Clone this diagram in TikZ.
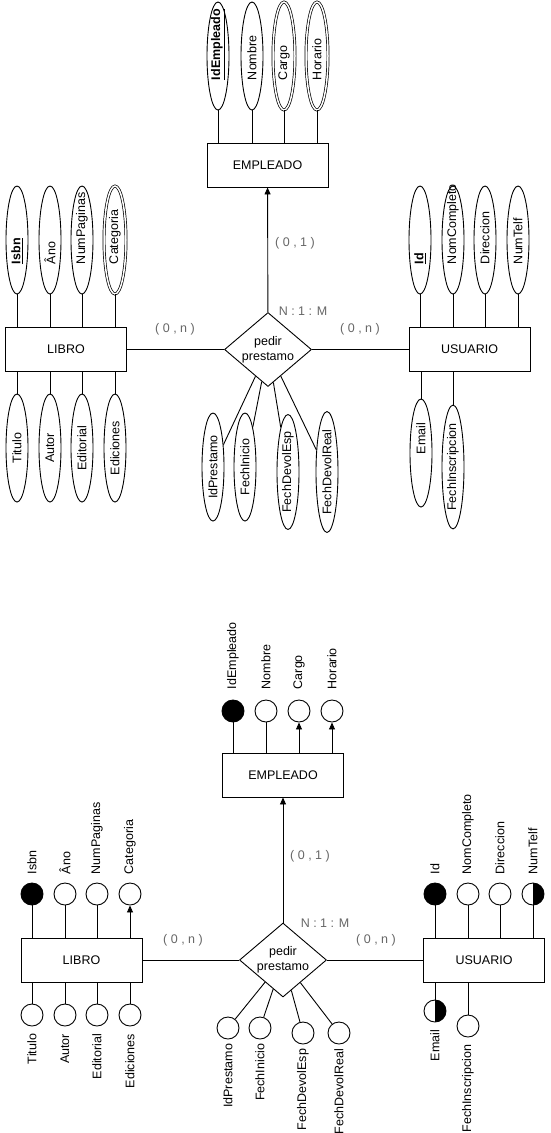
\documentclass[tikz,border=0pt]{standalone}
\usepackage{graphicx}
\usepackage{fontspec}
\setmainfont{Liberation Sans}
\usepackage{tikz}
\usetikzlibrary{positioning,shapes.geometric,arrows.meta}

\newcommand{\topattr}[1]{\rotatebox{90}{\makebox[48pt][l]{#1}}}
\newcommand{\vtext}[1]{\rotatebox{90}{#1}}

\begin{document}
\begin{tikzpicture}[x=1pt,y=-1pt,font=\fontsize{12.5}{15}\selectfont,line width=0.9pt,
    entity/.style={draw,minimum width=121pt,minimum height=44pt,inner sep=0pt},
    relbox/.style={diamond,draw,minimum width=87pt,minimum height=74pt,inner sep=0pt},
    attr/.style={ellipse,draw,minimum width=22pt,minimum height=108pt,inner sep=0pt},
    multi/.style={attr,double,double distance=1.5pt,line width=0.7pt},
    dotattr/.style={circle,draw,minimum size=22pt,inner sep=0pt},
    keydot/.style={dotattr,fill=black},
    halfdot/.style={dotattr,path picture={\fill (path picture bounding box.north) rectangle (path picture bounding box.south east);}},
    upl/.style={rotate=90,anchor=west,inner sep=1pt},
    downl/.style={rotate=90,anchor=east,inner sep=1pt},
    card/.style={text=black!60},
    link/.style={-{Triangle[length=7pt,width=6pt]}}]
  \useasboundingbox (0,0) rectangle (550,1133);

  % ---- modelo con elipses ----
  \node[entity](empleado) at (267.5,165){EMPLEADO};
  \node[entity](libro) at (66,349.5){LIBRO};
  \node[entity](usuario) at (469.5,349.5){USUARIO};
  \node[relbox](pedir) at (268,349.5){};
  \node[align=center,inner sep=0pt](pedirtxt) at (pedir){pedir\\prestamo};

  \node[attr](idempleado) at (218,56){\topattr{\underline{\textbf{IdEmpleado}}}};
  \node[attr](nombre) at (252,56){\topattr{Nombre}};
  \node[multi](cargo) at (284,56){\topattr{Cargo}};
  \node[multi](horario) at (317,56){\topattr{Horario}};
  \foreach \a in {idempleado,nombre,cargo,horario}
    \draw (\a) -- (\a |- empleado.north);

  \node[attr](isbn) at (17,240){\topattr{\underline{\textbf{Isbn}}}};
  \node[attr](ano) at (50,240){\topattr{Âno}};
  \node[attr](numpaginas) at (82,240){\topattr{NumPaginas}};
  \node[multi](categoria) at (115,240){\topattr{Categoria}};
  \node[attr](titulo) at (17,448){\vtext{Titulo}};
  \node[attr](autor) at (50,448){\vtext{Autor}};
  \node[attr](editorial) at (82,448){\vtext{Editorial}};
  \node[attr](ediciones) at (115,448){\vtext{Ediciones}};
  \foreach \a in {isbn,ano,numpaginas,categoria}
    \draw (\a) -- (\a |- libro.north);
  \foreach \a in {titulo,autor,editorial,ediciones}
    \draw (\a) -- (\a |- libro.south);

  \node[attr](id) at (420,240){\topattr{\underline{\textbf{Id}}}};
  \node[attr](nomcompleto) at (453,240){\topattr{NomCompleto}};
  \node[attr](direccion) at (485,240){\topattr{Direccion}};
  \node[attr](numtelf) at (518,240){\topattr{NumTelf}};
  \node[attr](email) at (421,453){\vtext{\makebox[60pt][r]{Email}}};
  \node[attr](fechinscripcion) at (453,467){\vtext{FechInscripcion}};
  \foreach \a in {id,nomcompleto,direccion,numtelf}
    \draw (\a) -- (\a |- usuario.north);
  \foreach \a in {email,fechinscripcion}
    \draw (\a) -- (\a |- usuario.south);

  \node[attr](idprestamo) at (213,467){\vtext{IdPrestamo}};
  \node[attr](fechinicio) at (245,467){\vtext{FechInicio}};
  \node[attr](fechdevolesp) at (288,472){\vtext{FechDevolEsp}};
  \node[attr](fechdevolreal) at (327,472){\vtext{FechDevolReal}};
  \foreach \a in {idprestamo,fechinicio,fechdevolesp,fechdevolreal}
    \draw (pedir) -- (\a);

  \draw (libro) -- (pedir);
  \draw (usuario) -- (pedir);
  \draw[link] (pedir) -- (empleado);
  \node[card](cl) at (175,329){( 0 , n )};
  \node[card](cr) at (360,329){( 0 , n )};
  \node[card](cm) at (303,311){N : 1 : M};
  \node[card](ce) at (295,243){( 0 , 1 )};

  % ---- modelo con circulos ----
  \node[entity](empleado2) at (283,775){EMPLEADO};
  \node[entity](libro2) at (81.5,960){LIBRO};
  \node[entity](usuario2) at (484,960){USUARIO};
  \node[relbox](pedir2) at (283,960){};
  \node[align=center,inner sep=0pt](pedirtxt2) at (pedir2){pedir\\prestamo};

  \node[keydot](idempleado2) at (233,711){};
  \node[dotattr](nombre2) at (266,711){};
  \node[dotattr](cargo2) at (299,711){};
  \node[dotattr](horario2) at (332,711){};
  \node[upl](tidempleado2) at ([yshift=9pt]idempleado2.north){IdEmpleado};
  \node[upl](tnombre2) at ([yshift=9pt]nombre2.north){Nombre};
  \node[upl](tcargo2) at ([yshift=9pt]cargo2.north){Cargo};
  \node[upl](thorario2) at ([yshift=9pt]horario2.north){Horario};
  \draw (idempleado2) -- (idempleado2 |- empleado2.north);
  \draw (nombre2) -- (nombre2 |- empleado2.north);
  \draw[link] (cargo2 |- empleado2.north) -- (cargo2);
  \draw[link] (horario2 |- empleado2.north) -- (horario2);

  \node[keydot](isbn2) at (32,894){};
  \node[dotattr](ano2) at (65,894){};
  \node[dotattr](numpaginas2) at (97,894){};
  \node[dotattr](categoria2) at (130,894){};
  \node[upl](tisbn2) at ([yshift=7pt]isbn2.north){Isbn};
  \node[upl](tano2) at ([yshift=7pt]ano2.north){Âno};
  \node[upl](tnumpaginas2) at ([yshift=7pt]numpaginas2.north){NumPaginas};
  \node[upl](tcategoria2) at ([yshift=7pt]categoria2.north){Categoria};
  \foreach \a in {isbn2,ano2,numpaginas2}
    \draw (\a) -- (\a |- libro2.north);
  \draw[link] (categoria2 |- libro2.north) -- (categoria2);

  \node[dotattr](titulo2) at (32,1015){};
  \node[dotattr](autor2) at (65,1015){};
  \node[dotattr](editorial2) at (97,1015){};
  \node[dotattr](ediciones2) at (130,1015){};
  \node[downl](ttitulo2) at ([yshift=-6pt]titulo2.south){Titulo};
  \node[downl](tautor2) at ([yshift=-6pt]autor2.south){Autor};
  \node[downl](teditorial2) at ([yshift=-6pt]editorial2.south){Editorial};
  \node[downl](tediciones2) at ([yshift=-6pt]ediciones2.south){Ediciones};
  \foreach \a in {titulo2,autor2,editorial2,ediciones2}
    \draw (\a) -- (\a |- libro2.south);

  \node[keydot](id2) at (435,894){};
  \node[dotattr](nomcompleto2) at (468,894){};
  \node[dotattr](direccion2) at (500,894){};
  \node[halfdot](numtelf2) at (533,894){};
  \node[upl](tid2) at ([yshift=7pt]id2.north){Id};
  \node[upl](tnomcompleto2) at ([yshift=7pt]nomcompleto2.north){NomCompleto};
  \node[upl](tdireccion2) at ([yshift=7pt]direccion2.north){Direccion};
  \node[upl](tnumtelf2) at ([yshift=7pt]numtelf2.north){NumTelf};
  \foreach \a in {id2,nomcompleto2,direccion2,numtelf2}
    \draw (\a) -- (\a |- usuario2.north);

  \node[halfdot](email2) at (435,1011){};
  \node[dotattr](fechinscripcion2) at (468,1026){};
  \node[downl](temail2) at ([yshift=-6pt]email2.south){Email};
  \node[downl](tfechinscripcion2) at ([yshift=-6pt]fechinscripcion2.south){FechInscripcion};
  \foreach \a in {email2,fechinscripcion2}
    \draw (\a) -- (\a |- usuario2.south);

  \node[dotattr](idprestamo2) at (228,1028){};
  \node[dotattr](fechinicio2) at (260,1028){};
  \node[dotattr](fechdevolesp2) at (303,1033){};
  \node[dotattr](fechdevolreal2) at (339,1033){};
  \node[downl](tidprestamo2) at ([yshift=-3pt]idprestamo2.south){IdPrestamo};
  \node[downl](tfechinicio2) at ([yshift=-3pt]fechinicio2.south){FechInicio};
  \node[downl](tfechdevolesp2) at ([yshift=-3pt]fechdevolesp2.south){FechDevolEsp};
  \node[downl](tfechdevolreal2) at ([yshift=-3pt]fechdevolreal2.south){FechDevolReal};
  \foreach \a in {idprestamo2,fechinicio2,fechdevolesp2,fechdevolreal2}
    \draw (pedir2) -- (\a);

  \draw (libro2) -- (pedir2);
  \draw (usuario2) -- (pedir2);
  \draw[link] (pedir2) -- (empleado2);
  \node[card](cl2) at (183,940){( 0 , n )};
  \node[card](cr2) at (376,940){( 0 , n )};
  \node[card](cm2) at (325,923){N : 1 : M};
  \node[card](ce2) at (310,856){( 0 , 1 )};
\end{tikzpicture}
\end{document}
